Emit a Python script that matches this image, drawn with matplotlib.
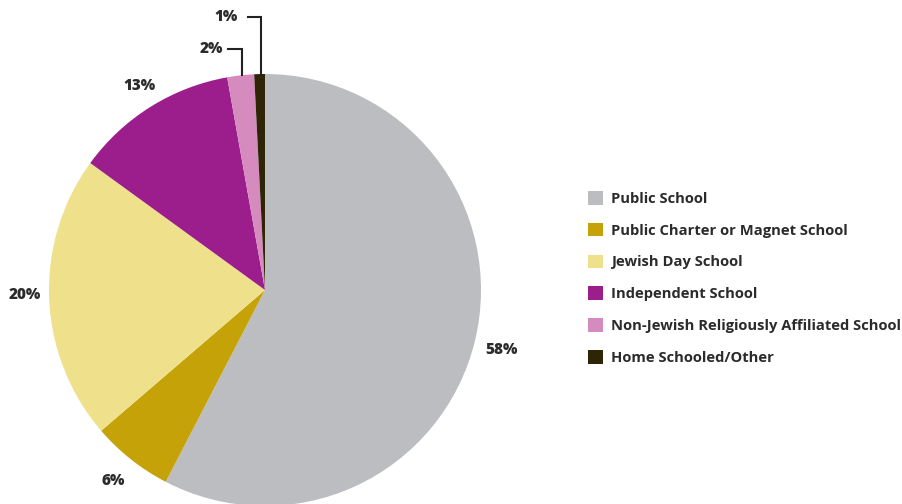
import numpy as np
import matplotlib.pyplot as plt

categories = ['Public School', 'Public Charter or Magnet School', 'Jewish Day School',
              'Independent School', 'Non-Jewish Religiously Affiliated School',
              'Home Schooled/Other']
shares = [57.6, 6.1, 21.3, 12.2, 2.0, 0.8]
pct_labels = ['58%', '6%', '20%', '13%', '2%', '1%']
colors = ['#bcbdc0', '#c4a208', '#efe08b', '#9c1e8c', '#d68bbf', '#2e2406']

plt.rcParams['font.family'] = ['Open Sans', 'DejaVu Sans']
txt = '#2b2b2b'

fig = plt.figure(figsize=(9.02, 5.04), dpi=100)
ax = fig.add_axes([0, 0, 1, 1])

cx, cy, r = 265, 214, 216
wedges, _ = ax.pie(shares, colors=colors, startangle=90, counterclock=False,
                   center=(cx, cy), radius=r, frame=True,
                   wedgeprops=dict(linewidth=0))
ax.set_xlim(0, 902)
ax.set_ylim(0, 504)
ax.axis('off')

# percentage labels
offsets = [(2, -3), (-2, -2), (0, 5), (2, 0)]
for w, lab, (ox, oy) in zip(wedges[:4], pct_labels[:4], offsets):
    mid = np.deg2rad((w.theta1 + w.theta2) / 2)
    ax.text(cx + 1.115 * r * np.cos(mid) + ox, cy + 1.115 * r * np.sin(mid) + oy, lab,
            ha='center', va='center', fontsize=11, fontweight='heavy', color=txt)

# leader lines for the small slices
tops = [455, 487]
arms = [14, 13]
gaps = [5, 10]
for w, lab, top, arm, gap in zip(wedges[4:], pct_labels[4:], tops, arms, gaps):
    mid = np.deg2rad((w.theta1 + w.theta2) / 2)
    x0 = cx + r * np.cos(mid) + 1
    y0 = cy + r * np.sin(mid)
    ax.plot([x0, x0, x0 - arm], [y0, top, top], color='#222222', lw=1.5,
            solid_joinstyle='miter')
    ax.text(x0 - arm - gap, top, lab, ha='right', va='center',
            fontsize=11, fontweight='heavy', color=txt)

leg = ax.legend(wedges, categories, loc='upper left',
                bbox_to_anchor=(588 / 902, 1 - 191 / 504), frameon=False,
                handlelength=1.05, handleheight=1.05, handletextpad=0.5,
                labelspacing=1.15, borderaxespad=0, borderpad=0,
                prop=dict(size=10.6, weight='bold'))
for t in leg.get_texts():
    t.set_color(txt)
for h in leg.legend_handles:
    h.set_edgecolor('none')

fig.savefig('out.png', dpi=100)
